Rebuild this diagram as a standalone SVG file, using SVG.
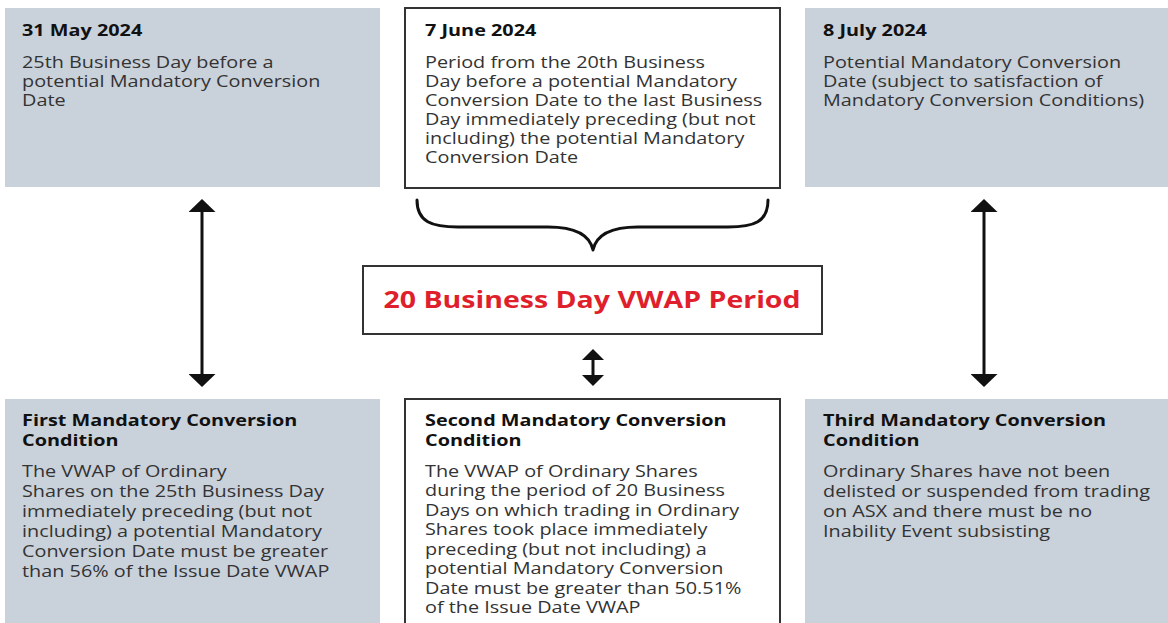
<svg xmlns="http://www.w3.org/2000/svg" width="1168" height="623" viewBox="0 0 1168 623">
  <style>
    .shade { fill: #c9d1da; }
    .frame { fill: #ffffff; stroke: #333333; stroke-width: 2; }
    .head { font-family: "Open Sans", "Liberation Sans", sans-serif; font-size: 16px; font-weight: 700; fill: #111111; }
    .body { font-family: "Open Sans", "Liberation Sans", sans-serif; font-size: 16px; fill: #333333; }
    .period { font-family: "Open Sans", "Liberation Sans", sans-serif; font-size: 23px; font-weight: 700; fill: #e01f2d; }
    .link { stroke: #111111; stroke-width: 3; fill: none; }
  </style>
  <defs>
    <marker id="tip" viewBox="0 0 13 27" refX="3" refY="13.5" markerWidth="13" markerHeight="27" markerUnits="userSpaceOnUse" orient="auto-start-reverse">
      <path d="M0,0 L13,13.5 L0,27 z" fill="#111111"/>
    </marker>
    <marker id="tip-small" viewBox="0 0 11 22" refX="3" refY="11" markerWidth="11" markerHeight="22" markerUnits="userSpaceOnUse" orient="auto-start-reverse">
      <path d="M0,0 L11,11 L0,22 z" fill="#111111"/>
    </marker>
  </defs>

  <rect width="1168" height="623" fill="#ffffff"/>

  <!-- top row: dates -->
  <g id="date-31-may">
    <rect class="shade" x="5" y="8" width="375" height="179"/>
    <g transform="translate(22 0) scale(1.24 1)">
      <text class="head" x="0" y="36">31 May 2024</text>
      <text class="body" x="0" y="68">25th Business Day before a</text>
      <text class="body" x="0" y="87">potential Mandatory Conversion</text>
      <text class="body" x="0" y="106">Date</text>
    </g>
  </g>

  <g id="date-7-june">
    <rect class="frame" x="405" y="8" width="375" height="180"/>
    <g transform="translate(425 0) scale(1.24 1)">
      <text class="head" x="0" y="36">7 June 2024</text>
      <text class="body" x="0" y="68">Period from the 20th Business</text>
      <text class="body" x="0" y="87">Day before a potential Mandatory</text>
      <text class="body" x="0" y="106">Conversion Date to the last Business</text>
      <text class="body" x="0" y="125">Day immediately preceding (but not</text>
      <text class="body" x="0" y="144">including) the potential Mandatory</text>
      <text class="body" x="0" y="163">Conversion Date</text>
    </g>
  </g>

  <g id="date-8-july">
    <rect class="shade" x="805" y="8" width="370" height="179"/>
    <g transform="translate(823 0) scale(1.24 1)">
      <text class="head" x="0" y="36">8 July 2024</text>
      <text class="body" x="0" y="68">Potential Mandatory Conversion</text>
      <text class="body" x="0" y="87">Date (subject to satisfaction of</text>
      <text class="body" x="0" y="106">Mandatory Conversion Conditions)</text>
    </g>
  </g>

  <!-- middle: VWAP period -->
  <g id="vwap-period">
    <rect class="frame" x="363" y="266" width="459" height="68"/>
    <g transform="translate(592 0) scale(1.24 1)">
      <text class="period" x="0" y="308" text-anchor="middle">20 Business Day VWAP Period</text>
    </g>
  </g>

  <!-- bottom row: conditions -->
  <g id="condition-first">
    <rect class="shade" x="5" y="399" width="375" height="230"/>
    <g transform="translate(22 0) scale(1.24 1)">
      <text class="head" x="0" y="426">First Mandatory Conversion</text>
      <text class="head" x="0" y="446">Condition</text>
      <text class="body" x="0" y="477">The VWAP of Ordinary</text>
      <text class="body" x="0" y="497">Shares on the 25th Business Day</text>
      <text class="body" x="0" y="517">immediately preceding (but not</text>
      <text class="body" x="0" y="537">including) a potential Mandatory</text>
      <text class="body" x="0" y="557">Conversion Date must be greater</text>
      <text class="body" x="0" y="577">than 56% of the Issue Date VWAP</text>
    </g>
  </g>

  <g id="condition-second">
    <rect class="frame" x="405" y="399" width="375" height="235"/>
    <g transform="translate(425 0) scale(1.24 1)">
      <text class="head" x="0" y="426">Second Mandatory Conversion</text>
      <text class="head" x="0" y="446">Condition</text>
      <text class="body" x="0" y="477">The VWAP of Ordinary Shares</text>
      <text class="body" x="0" y="496.5">during the period of 20 Business</text>
      <text class="body" x="0" y="516">Days on which trading in Ordinary</text>
      <text class="body" x="0" y="535.5">Shares took place immediately</text>
      <text class="body" x="0" y="555">preceding (but not including) a</text>
      <text class="body" x="0" y="574.5">potential Mandatory Conversion</text>
      <text class="body" x="0" y="594">Date must be greater than 50.51%</text>
      <text class="body" x="0" y="613.5">of the Issue Date VWAP</text>
    </g>
  </g>

  <g id="condition-third">
    <rect class="shade" x="805" y="399" width="370" height="230"/>
    <g transform="translate(823 0) scale(1.24 1)">
      <text class="head" x="0" y="426">Third Mandatory Conversion</text>
      <text class="head" x="0" y="446">Condition</text>
      <text class="body" x="0" y="477">Ordinary Shares have not been</text>
      <text class="body" x="0" y="497">delisted or suspended from trading</text>
      <text class="body" x="0" y="517">on ASX and there must be no</text>
      <text class="body" x="0" y="537">Inability Event subsisting</text>
    </g>
  </g>

  <!-- connectors -->
  <g id="connectors">
    <path class="link" stroke-linecap="round" stroke-linejoin="round" d="M417,200 C417,222 432,227 458,227 L548,227 C576,227 590,236 593,250 C596,236 610,227 638,227 L728,227 C754,227 768,222 768,200"/>
    <line class="link" x1="202" y1="209" x2="202" y2="377" marker-start="url(#tip)" marker-end="url(#tip)"/>
    <line class="link" x1="984" y1="209" x2="984" y2="377" marker-start="url(#tip)" marker-end="url(#tip)"/>
    <line class="link" x1="593" y1="357" x2="593" y2="378" marker-start="url(#tip-small)" marker-end="url(#tip-small)"/>
  </g>
</svg>
